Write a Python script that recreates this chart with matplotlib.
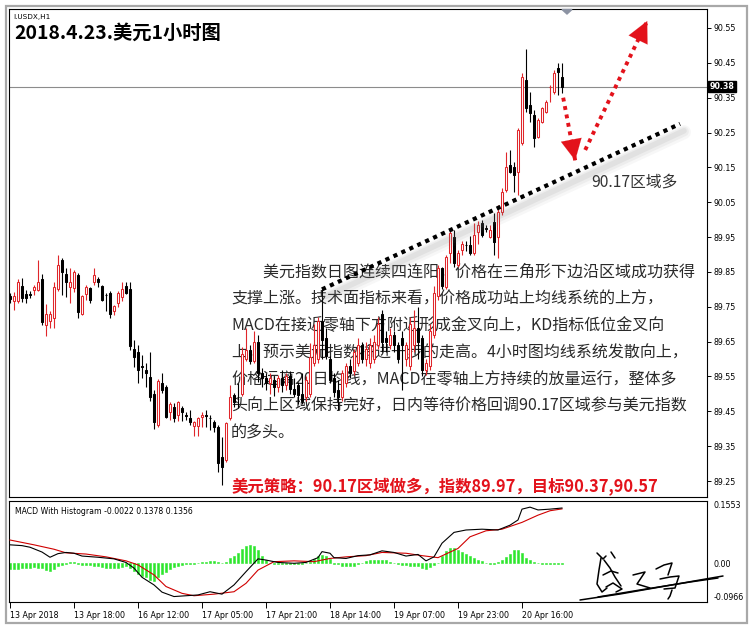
import matplotlib
matplotlib.use("Agg")
import matplotlib.pyplot as plt
import numpy as np
from matplotlib.patches import Rectangle, Polygon

plt.rcParams['font.family'] = ['Noto Sans CJK SC', 'DejaVu Sans']

# hourly USDX candles, 13 Apr 2018 -> 20 Apr 2018
opens = [89.780, 89.768, 89.766, 89.810, 89.788, 89.786, 89.799, 89.799, 89.831, 89.697,
         89.709, 89.719, 89.800, 89.884, 89.843, 89.807, 89.803, 89.841, 89.728, 89.788,
         89.803, 89.820, 89.831, 89.810, 89.785, 89.789, 89.739, 89.760, 89.779, 89.810,
         89.800, 89.628, 89.619, 89.579, 89.569, 89.548, 89.500, 89.411, 89.531, 89.519,
         89.449, 89.462, 89.440, 89.459, 89.440, 89.430, 89.408, 89.408, 89.435, 89.440,
         89.432, 89.420, 89.406, 89.320, 89.310, 89.430, 89.497, 89.492, 89.500, 89.600,
         89.625, 89.595, 89.650, 89.560, 89.545, 89.530, 89.540, 89.520, 89.545, 89.525,
         89.550, 89.515, 89.525, 89.500, 89.490, 89.500, 89.590, 89.600, 89.710, 89.660,
         89.600, 89.545, 89.510, 89.490, 89.530, 89.580, 89.565, 89.590, 89.640, 89.600,
         89.590, 89.600, 89.640, 89.730, 89.660, 89.640, 89.670, 89.640, 89.660, 89.600,
         89.580, 89.640, 89.690, 89.660, 89.570, 89.580, 89.670, 89.780, 89.860, 89.808,
         89.904, 89.951, 89.870, 89.912, 89.928, 89.928, 89.904, 89.966, 89.989, 89.975,
         89.951, 89.994, 89.951, 90.023, 90.085, 90.157, 90.152, 90.138, 90.219, 90.401,
         90.329, 90.300, 90.238, 90.281, 90.310, 90.381, 90.367, 90.434, 90.410]
highs = [89.790, 89.793, 89.831, 89.833, 89.798, 89.795, 89.812, 89.884, 89.843, 89.757,
         89.738, 89.822, 89.900, 89.891, 89.862, 89.860, 89.855, 89.846, 89.784, 89.812,
         89.807, 89.860, 89.836, 89.812, 89.791, 89.794, 89.756, 89.794, 89.820, 89.820,
         89.820, 89.655, 89.641, 89.612, 89.588, 89.619, 89.511, 89.542, 89.559, 89.526,
         89.478, 89.475, 89.481, 89.465, 89.449, 89.454, 89.421, 89.435, 89.449, 89.454,
         89.440, 89.425, 89.411, 89.377, 89.420, 89.526, 89.502, 89.530, 89.635, 89.690,
         89.640, 89.680, 89.670, 89.575, 89.560, 89.560, 89.550, 89.555, 89.570, 89.560,
         89.565, 89.545, 89.535, 89.560, 89.550, 89.645, 89.700, 89.720, 89.800, 89.690,
         89.610, 89.560, 89.540, 89.570, 89.590, 89.600, 89.630, 89.660, 89.650, 89.650,
         89.660, 89.670, 89.720, 89.740, 89.680, 89.690, 89.680, 89.650, 89.680, 89.650,
         89.720, 89.740, 89.750, 89.670, 89.600, 89.700, 89.810, 89.870, 89.865, 89.900,
         89.975, 89.970, 89.913, 89.940, 89.938, 89.952, 89.990, 89.995, 90.000, 89.985,
         89.985, 90.018, 90.042, 90.090, 90.195, 90.200, 90.166, 90.262, 90.420, 90.490,
         90.367, 90.315, 90.291, 90.324, 90.343, 90.386, 90.430, 90.449, 90.449]
lows = [89.760, 89.740, 89.760, 89.764, 89.760, 89.776, 89.785, 89.795, 89.697, 89.667,
        89.688, 89.688, 89.795, 89.783, 89.779, 89.760, 89.793, 89.718, 89.726, 89.769,
        89.760, 89.812, 89.807, 89.766, 89.739, 89.717, 89.727, 89.749, 89.768, 89.787,
        89.626, 89.578, 89.531, 89.545, 89.519, 89.481, 89.399, 89.406, 89.504, 89.430,
        89.425, 89.418, 89.421, 89.421, 89.425, 89.411, 89.379, 89.379, 89.406, 89.406,
        89.397, 89.392, 89.277, 89.240, 89.305, 89.425, 89.463, 89.459, 89.495, 89.595,
        89.585, 89.590, 89.535, 89.520, 89.510, 89.500, 89.495, 89.505, 89.505, 89.510,
        89.500, 89.490, 89.470, 89.470, 89.480, 89.492, 89.580, 89.590, 89.600, 89.600,
        89.530, 89.490, 89.455, 89.480, 89.520, 89.545, 89.555, 89.580, 89.590, 89.580,
        89.575, 89.590, 89.630, 89.620, 89.620, 89.630, 89.620, 89.590, 89.510, 89.580,
        89.570, 89.620, 89.600, 89.550, 89.555, 89.570, 89.660, 89.770, 89.800, 89.800,
        89.875, 89.865, 89.865, 89.900, 89.910, 89.898, 89.898, 89.930, 89.950, 89.965,
        89.946, 89.898, 89.889, 90.013, 90.080, 90.133, 90.080, 90.071, 90.214, 90.310,
        90.281, 90.209, 90.233, 90.276, 90.305, 90.339, 90.362, 90.358, 90.363]
closes = [89.772, 89.782, 89.820, 89.776, 89.776, 89.785, 89.808, 89.820, 89.705, 89.728,
          89.728, 89.808, 89.870, 89.850, 89.820, 89.822, 89.850, 89.736, 89.782, 89.808,
          89.769, 89.841, 89.820, 89.769, 89.783, 89.730, 89.751, 89.789, 89.800, 89.789,
          89.638, 89.607, 89.569, 89.577, 89.559, 89.490, 89.418, 89.538, 89.510, 89.435,
          89.471, 89.430, 89.478, 89.449, 89.438, 89.418, 89.418, 89.430, 89.440, 89.437,
          89.430, 89.406, 89.301, 89.291, 89.416, 89.492, 89.478, 89.490, 89.615, 89.625,
          89.595, 89.650, 89.560, 89.545, 89.530, 89.545, 89.520, 89.545, 89.525, 89.550,
          89.515, 89.500, 89.497, 89.480, 89.540, 89.605, 89.640, 89.710, 89.655, 89.610,
          89.540, 89.505, 89.490, 89.560, 89.580, 89.560, 89.620, 89.640, 89.600, 89.630,
          89.640, 89.650, 89.700, 89.650, 89.650, 89.670, 89.640, 89.600, 89.640, 89.640,
          89.700, 89.690, 89.650, 89.570, 89.590, 89.680, 89.790, 89.860, 89.810, 89.894,
          89.961, 89.875, 89.904, 89.930, 89.927, 89.904, 89.956, 89.985, 89.956, 89.974,
          89.970, 89.937, 90.023, 90.080, 90.152, 90.138, 90.128, 90.257, 90.410, 90.319,
          90.305, 90.233, 90.286, 90.319, 90.339, 90.382, 90.420, 90.425, 90.382]

# MACD(black) and signal(red) vertices: bar index -> value
macd_bars = [0, 3, 5, 8, 10, 12, 14, 16, 18, 22, 26, 29, 31, 33, 36, 38, 41, 44, 47, 50,
             53, 56, 59, 62, 64, 67, 71, 74, 77, 78, 80, 81, 84, 87, 90, 93, 96, 99, 102,
             104, 106, 108, 111, 114, 118, 122, 125, 127, 128, 130, 132, 135, 138]
macd_vals = [0.046, 0.044, 0.040, 0.028, 0.015, 0.024, 0.027, 0.025, 0.018, 0.015, 0.011,
             0.002, -0.012, -0.035, -0.054, -0.072, -0.083, -0.081, -0.079, -0.071, -0.077,
             -0.054, -0.021, 0.011, 0.008, 0.002, 0.000, 0.002, 0.014, 0.029, 0.025, 0.014,
             0.012, 0.019, 0.021, 0.031, 0.027, 0.018, 0.022, 0.006, 0.016, 0.050, 0.077,
             0.083, 0.085, 0.083, 0.095, 0.108, 0.135, 0.140, 0.133, 0.135, 0.1378]
sig_bars = [0, 6, 11, 14, 19, 24, 29, 32, 36, 39, 43, 46, 51, 56, 59, 62, 66, 71, 76, 80,
            84, 89, 93, 99, 103, 107, 112, 115, 119, 123, 128, 132, 135, 138]
sig_vals = [0.058, 0.046, 0.035, 0.026, 0.023, 0.016, 0.006, -0.004, -0.029, -0.058, -0.075,
            -0.081, -0.077, -0.071, -0.050, -0.017, 0.004, 0.006, 0.004, 0.012, 0.016, 0.019,
            0.027, 0.025, 0.019, 0.014, 0.037, 0.066, 0.081, 0.085, 0.102, 0.120, 0.131, 0.1356]
hist = [-0.015, -0.015, -0.015, -0.013, -0.011, -0.011, -0.010, -0.012, -0.013, -0.016,
        -0.019, -0.014, -0.006, -0.004, -0.003, 0.002, 0.002, -0.002, -0.005, -0.005,
        -0.005, -0.006, -0.006, -0.010, -0.012, -0.012, -0.012, -0.012, -0.010, -0.008,
        -0.012, -0.020, -0.028, -0.032, -0.035, -0.042, -0.044, -0.035, -0.027, -0.021,
        -0.015, -0.010, -0.007, -0.004, -0.002, -0.001, -0.001, 0.000, 0.003, 0.004,
        0.006, 0.005, 0.002, 0.000, 0.003, 0.012, 0.019, 0.026, 0.036, 0.044,
        0.046, 0.043, 0.033, 0.019, 0.009, 0.000, -0.003, -0.003, -0.003, -0.002,
        -0.002, -0.002, -0.001, -0.001, 0.000, 0.003, 0.011, 0.019, 0.021, 0.017,
        0.010, -0.001, -0.003, -0.006, -0.008, -0.008, -0.006, -0.003, 0.001, 0.005,
        0.008, 0.008, 0.008, 0.009, 0.008, 0.004, 0.001, -0.002, -0.004, -0.005,
        -0.006, -0.008, -0.008, -0.013, -0.015, -0.010, -0.005, 0.001, 0.018, 0.030,
        0.037, 0.037, 0.034, 0.029, 0.022, 0.017, 0.012, 0.008, 0.005, 0.001,
        -0.003, -0.001, 0.004, 0.009, 0.015, 0.023, 0.033, 0.033, 0.026, 0.013,
        0.008, 0.004, 0.000, -0.001, -0.001, -0.001, -0.002, -0.002, -0.0022]

date_ticks = [0, 16, 32, 48, 64, 80, 96, 112, 128]
date_labels = ["13 Apr 2018", "13 Apr 18:00", "16 Apr 12:00", "17 Apr 05:00", "17 Apr 21:00",
               "18 Apr 14:00", "19 Apr 07:00", "19 Apr 23:00", "20 Apr 16:00"]
price_ticks = [89.25, 89.35, 89.45, 89.55, 89.65, 89.75, 89.85, 89.95,
               90.05, 90.15, 90.25, 90.35, 90.45, 90.55]

# trade plan drawn on the chart (bar index, price)
support_line = ([78, 167.5], [89.80, 90.275])
pullback = ([138.3, 141.3], [90.35, 90.17])
target = ([143.8, 159.3], [90.20, 90.57])

title = "2018.4.23.美元1小时图"
para = ["　　美元指数日图连续四连阳，价格在三角形下边沿区域成功获得",
        "支撑上涨。技术面指标来看，价格成功站上均线系统的上方，",
        "MACD在接近零轴下方附近形成金叉向上，KD指标低位金叉向",
        "上，预示美元指数将进一步的走高。4小时图均线系统发散向上，",
        "价格远离20日均线，MACD在零轴上方持续的放量运行，整体多",
        "头向上区域保持完好，日内等待价格回调90.17区域参与美元指数",
        "的多头。"]
strategy = "美元策略：90.17区域做多，指数89.97，目标90.37,90.57"

RED = "#e3121b"
UP = "#e0262b"
GREEN = "#2ee62e"
TXT = "#2a2a2a"
TICKFONT = dict(family="DejaVu Sans", size=5.7)

W, H = 754, 630
fig = plt.figure(figsize=(W / 100, H / 100), dpi=100)


def fx(px):
    return px / W


def fy(py):
    return 1 - py / H


ax = fig.add_axes([fx(9), fy(497), fx(707) - fx(9), fy(9) - fy(497)])
mx = fig.add_axes([fx(9), fy(602), fx(707) - fx(9), fy(501) - fy(602)])

o = np.array(opens)
h = np.array(highs)
l = np.array(lows)
c = np.array(closes)
idx = np.arange(len(o))
up = c >= o

# candles: red hollow for up bars, solid black for down bars
ax.vlines(idx[up], l[up], h[up], colors=UP, linewidth=0.8, zorder=3)
ax.vlines(idx[~up], l[~up], h[~up], colors="black", linewidth=0.8, zorder=3)
ax.bar(idx[up], c[up] - o[up], bottom=o[up], width=0.55, facecolor="white",
       edgecolor=UP, linewidth=0.75, zorder=4)
ax.bar(idx[~up], c[~up] - o[~up], bottom=o[~up], width=0.55, facecolor="black",
       edgecolor="black", linewidth=0.75, zorder=4)

ax.axhline(c[-1], color="#8c8c8c", linewidth=0.8, zorder=2)

ax.set_xlim(-0.25, 174.25)
ax.set_ylim(89.2042, 90.6045)
ax.set_xticks([])
ax.yaxis.tick_right()
ax.set_yticks(price_ticks)
ax.set_yticklabels([f"{p:.2f}" for p in price_ticks], **TICKFONT)
ax.tick_params(axis="y", length=3, width=0.7, pad=2)
for s in ax.spines.values():
    s.set_linewidth(0.8)

# last price tag
ax.text(1.0035, c[-1], f"{c[-1]:.2f}", transform=ax.get_yaxis_transform(),
        ha="left", va="center", color="white", fontfamily="DejaVu Sans", fontsize=5.7,
        fontweight="bold", bbox=dict(boxstyle="square,pad=0.18", fc="black", ec="black"),
        clip_on=False, zorder=10)

# support line with soft shadow
sx, sy = support_line
for lw, a, off in [(10, 0.06, 0.024), (7, 0.08, 0.022), (4, 0.10, 0.020)]:
    ax.plot(np.array(sx) + 1, np.array(sy) - off, color="#7a7a7a", linewidth=lw,
            alpha=a, solid_capstyle="round", zorder=4.5)
ax.plot(sx, sy, color="black", linewidth=3.0, linestyle=(0, (1.0, 1.1)),
        dash_capstyle="butt", zorder=6)

# pullback and target arrows
for (xs, ys) in [pullback, target]:
    ax.plot(xs, ys, color=RED, linewidth=2.8, linestyle=(0, (1.0, 1.2)),
            dash_capstyle="butt", zorder=6)
    ax.annotate("", xy=(xs[1], ys[1]), xytext=(xs[1] - (xs[1] - xs[0]) * 0.02,
                                              ys[1] - (ys[1] - ys[0]) * 0.02),
                arrowprops=dict(arrowstyle="-|>,head_length=1.5,head_width=0.75",
                                color=RED, lw=0.1, mutation_scale=10), zorder=7)

ax.text(fx(591), fy(182), "90.17区域多", transform=fig.transFigure, fontsize=11.3,
        color="#333333", ha="left", va="center", zorder=7)

# MACD panel
hv = np.array(hist)
mx.bar(idx, hv, width=0.72, color=GREEN, edgecolor=GREEN, linewidth=0.4, zorder=2)
mx.plot(sig_bars, sig_vals, color="#d00000", linewidth=0.8, zorder=3)
mx.plot(macd_bars, macd_vals, color="black", linewidth=0.8, zorder=4)
mx.set_xlim(-0.25, 174.25)
mx.set_ylim(-0.0966, 0.1553)
mx.yaxis.tick_right()
mx.set_yticks([0.1553, 0.0, -0.0966])
ylabs = mx.set_yticklabels(["0.1553", "0.00", "-0.0966"], **TICKFONT)
ylabs[0].set_va("top")
ylabs[2].set_va("bottom")
mx.tick_params(axis="y", length=0, pad=5)
mx.set_xticks(date_ticks)
xlabs = mx.set_xticklabels(date_labels, **TICKFONT)
for t in xlabs:
    t.set_ha("left")
mx.tick_params(axis="x", length=4, width=0.7, pad=2.5)
for s in mx.spines.values():
    s.set_linewidth(0.8)
mx.text(0.008, 0.9, f"MACD With Histogram {hv[-1]:.4f} {macd_vals[-1]:.4f} {sig_vals[-1]:.4f}",
        transform=mx.transAxes, fontfamily="DejaVu Sans", fontsize=5.6, ha="left", va="center")

# header and commentary
fig.text(fx(13), fy(17.5), "I.USDX,H1", fontfamily="DejaVu Sans", fontsize=5.2,
         ha="left", va="center")
fig.text(fx(14), fy(33.5), title, fontsize=13.9, fontweight="bold", ha="left", va="center")
line_y = [272, 299, 325.5, 352.5, 379.5, 406, 433]
for s, yy in zip(para, line_y):
    ax.text(fx(231), fy(yy), s, transform=fig.transFigure, fontsize=11.5, color=TXT,
            ha="left", va="center", zorder=1)
ax.text(fx(231), fy(487), strategy, transform=fig.transFigure, fontsize=11.8,
        fontweight="bold", color=RED, ha="left", va="center", zorder=7)

# window frame, chart-shift marker and signature
ov = fig.add_axes([0, 0, 1, 1], facecolor="none")
ov.set_xlim(0, W)
ov.set_ylim(H, 0)
ov.axis("off")
ov.add_patch(Rectangle((5.5, 5.5), 741.5, 617.5, fill=False, edgecolor="#a8a8a8", linewidth=1.6))
ov.add_patch(Polygon([(562, 9.5), (572, 9.5), (567, 14)], closed=True, color="#8c93a3"))
sig_strokes = [
    [(580, 600), (620, 594), (660, 587), (700, 580), (723, 576)],
    [(598, 597), (640, 590), (690, 582), (718, 578)],
    [(597, 553), (603, 559), (606, 556)],
    [(601, 558), (599, 570), (597, 584), (602, 592), (607, 588)],
    [(604, 560), (610, 568), (615, 577), (621, 586)],
    [(603, 575), (611, 571), (618, 573)],
    [(606, 587), (613, 583), (622, 589), (616, 592)],
    [(611, 552), (615, 558)],
    [(633, 575), (645, 572), (637, 584), (650, 588)],
    [(656, 569), (664, 565), (672, 563), (668, 575)],
    [(660, 579), (670, 577), (679, 576), (675, 588), (664, 589)],
    [(672, 590), (670, 596), (668, 599)],
]
for st in sig_strokes:
    xs, ys = zip(*st)
    ov.plot(xs, ys, color="black", linewidth=1.1, solid_capstyle="round",
            solid_joinstyle="round")

fig.savefig("out.png", dpi=100, facecolor="white")
